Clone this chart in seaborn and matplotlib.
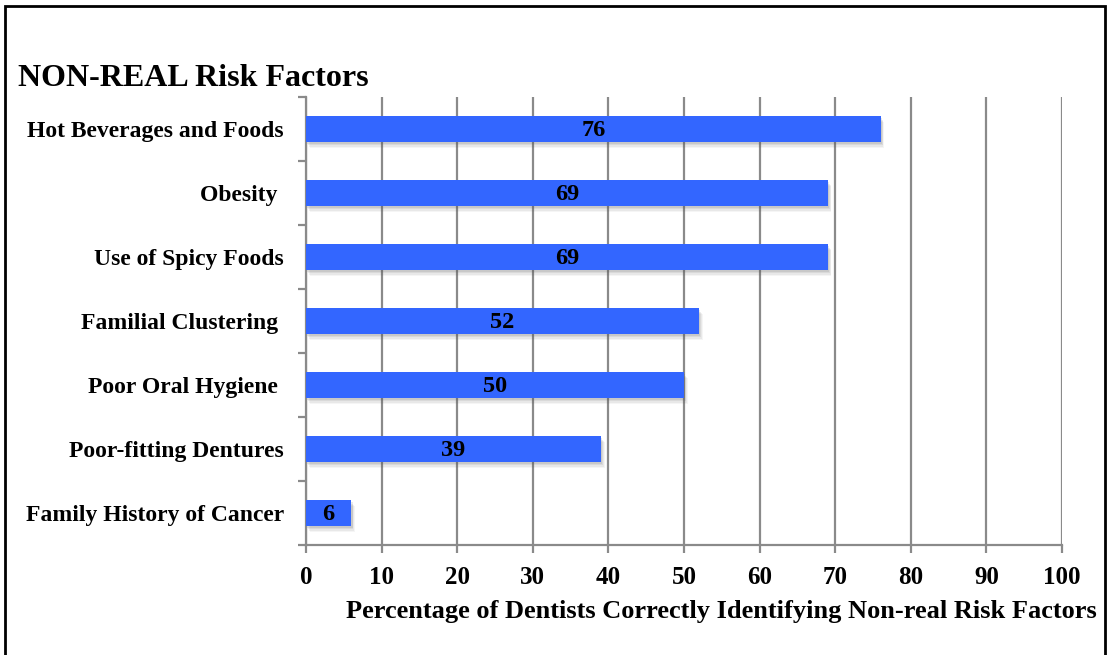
import matplotlib
matplotlib.use("Agg")
import matplotlib.pyplot as plt
import matplotlib.patheffects as pe
from matplotlib.patches import Rectangle
from matplotlib.ticker import FixedLocator, MultipleLocator
import seaborn as sns
import pandas as pd

categories = [
    "Hot Beverages and Foods",
    "Obesity ",
    "Use of Spicy Foods",
    "Familial Clustering ",
    "Poor Oral Hygiene ",
    "Poor-fitting Dentures",
    "Family History of Cancer",
]
percentages = [76, 69, 69, 52, 50, 39, 6]

title = "NON-REAL Risk Factors"
x_label = "Percentage of Dentists Correctly Identifying Non-real Risk Factors"

sns.set_theme(style="white")
plt.rcParams["font.family"] = ["Liberation Serif", "DejaVu Serif"]
plt.rcParams["font.weight"] = "bold"
plt.rcParams["text.color"] = "black"
plt.rcParams["xtick.color"] = "black"
plt.rcParams["ytick.color"] = "black"
plt.rcParams["axes.labelcolor"] = "black"

df = pd.DataFrame({"factor": categories, "pct": percentages})

fig = plt.figure(figsize=(11.09, 6.55), dpi=100)
ax = fig.add_axes([306 / 1109, 110 / 655, 756 / 1109, 448 / 655])

bar_color = "#3366FF"
sns.barplot(data=df, x="pct", y="factor", orient="h", color=bar_color,
            saturation=1, width=0.4, ax=ax, zorder=3)

# soft drop shadow built from a few stacked, offset translucent copies
shadow_layers = [
    pe.SimplePatchShadow(offset=(off * 0.6, -off), shadow_rgbFace="#555555", alpha=a)
    for off, a in [(4.5, 0.06), (3.5, 0.08), (2.5, 0.10), (1.5, 0.12)]
]
for patch in ax.patches:
    patch.set_edgecolor("none")
    patch.set_path_effects(shadow_layers + [pe.Normal()])

# value labels centred inside each bar
for i, v in enumerate(percentages):
    ax.text(v / 2, i + 0.03, str(v), ha="center", va="center", fontsize=17.5,
            fontweight="bold", color="black", zorder=5)

ax.set_xlim(0, 100)
ax.set_ylim(len(categories) - 0.5, -0.5)
ax.xaxis.set_major_locator(MultipleLocator(10))

grid_color = "#8a8a8a"
ax.grid(axis="x", color=grid_color, linewidth=1.6, zorder=0)
ax.grid(axis="y", visible=False)

for side in ["top", "right"]:
    ax.spines[side].set_visible(False)
for side in ["left", "bottom"]:
    ax.spines[side].set_color(grid_color)
    ax.spines[side].set_linewidth(1.6)

# y ticks marking category boundaries
ax.yaxis.set_minor_locator(FixedLocator([k - 0.5 for k in range(len(categories) + 1)]))
ax.tick_params(axis="y", which="major", length=0, pad=16, labelsize=17)
ax.tick_params(axis="y", which="minor", length=6, width=1.6, color=grid_color, left=True)
ax.tick_params(axis="x", which="major", length=6, width=1.6, color=grid_color,
               bottom=True, labelsize=18, pad=9)
for lbl in ax.get_xticklabels() + ax.get_yticklabels():
    lbl.set_fontweight("bold")
    lbl.set_color("black")

ax.set_ylabel("")
ax.set_xlabel(x_label, fontsize=19, fontweight="bold", color="black")
ax.xaxis.set_label_coords(0.549, -0.123)

fig.text(18 / 1109, 1 - 78 / 655, title, fontsize=23, fontweight="bold",
         ha="left", va="center", color="black")

# outer frame around the chart
fig.patches.append(Rectangle((5 / 1109, -0.02), 1100 / 1109, 1 - 6 / 655 + 0.02,
                             transform=fig.transFigure, fill=False,
                             edgecolor="black", linewidth=2))

fig.savefig("out.png", dpi=100)
